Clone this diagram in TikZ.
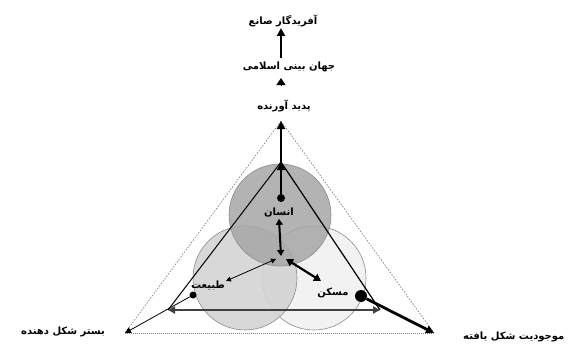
\documentclass[tikz,border=0pt]{standalone}
\usepackage{fontspec}
\newfontfamily\arabicfont[Script=Arabic]{DejaVu Sans}
\TeXXeTstate=1
\usetikzlibrary{arrows.meta}
\definecolor{ringgray}{HTML}{8C8C8C}
\definecolor{topfill}{HTML}{A6A6A6}
\definecolor{leftfill}{HTML}{D4D4D4}
\definecolor{rightfill}{HTML}{F2F2F2}
\newcommand{\fa}[1]{{\arabicfont\bfseries\beginR #1\endR}}

\begin{document}
\begin{tikzpicture}[x=1pt,y=-1pt,
  fatext/.style={font=\fontsize{10}{11}\selectfont, inner sep=1pt},
  dot/.style={circle,fill=black,inner sep=0pt,minimum size=#1},
  ring/.style={draw=ringgray,line width=0.6pt},
  outer/.style={draw=gray,line width=0.7pt,dash pattern=on 1.5pt off 1.5pt},
  bigtip/.style={-{Triangle[length=8pt,width=8pt]}},
  smalltip/.style={{Triangle[length=5pt,width=5pt]}-{Triangle[length=5pt,width=5pt]}}]
  \useasboundingbox (0,0) rectangle (570,345);
  % the three circles
  \filldraw[ring,fill=rightfill] (314,278) circle (52);
  \filldraw[ring,fill=leftfill,fill opacity=0.9] (245,278) circle (52);
  \filldraw[ring,fill=topfill,fill opacity=0.85] (280,215) circle (51);

  % corners
  \coordinate (apexout) at (281,121);
  \coordinate (leftout) at (125,333);
  \coordinate (rightout) at (434,333);
  \coordinate (apexin) at (281,162);
  \coordinate (leftin) at (168,310);
  \coordinate (rightin) at (380,310);
  \coordinate (hub) at (281,256);
  \coordinate (hubl) at (276,259);
  \coordinate (hubr) at (286,259);
  \coordinate (tabend) at (226,281);
  \coordinate (maskend) at (321,281);

  \node[dot=8pt] (ensandot) at (281,198) {};
  \node[dot=7pt] (tabdot) at (193,295) {};
  \node[dot=12pt] (maskdot) at (361,296) {};

  \node[fatext] (ensan) at (279,213) {\fa{انسان}};
  \node[fatext] (tabiat) at (208,286) {\fa{طبیعت}};
  \node[fatext] (maskan) at (333,293) {\fa{مسکن}};
  \node[fatext] (padid) at (284,106) {\fa{پدید آورنده}};
  \node[fatext] (jahan) at (289,67) {\fa{جهان بینی اسلامی}};
  \node[fatext] (afarid) at (283,21) {\fa{آفریدگار صانع}};
  \node[fatext] (bastar) at (63,332) {\fa{بستر شکل دهنده}};
  \node[fatext,anchor=west] (mojud) at (462,337) {\fa{موجودیت شکل یافته}};

  % outer triangle
  \draw[outer] (apexout) -- (leftout);
  \draw[outer] (apexout) -- (rightout);
  \draw[outer,dash pattern=on 1pt off 1pt] (leftout) -- (rightout);

  % inner triangle
  \draw[line width=1pt] (apexin) -- (leftin);
  \draw[line width=1.2pt] (apexin) -- (rightin);
  \draw[line width=1.8pt,draw=black!75,{Triangle[length=7pt,width=7pt]}-{Triangle[length=7pt,width=7pt]}] (leftin) -- (rightin);

  % axis to the top
  \draw[line width=2.5pt,bigtip] (ensandot) -- (apexin);
  \draw[line width=2.5pt,bigtip] (apexin) -- (apexout);
  \draw[line width=2.5pt,bigtip] (281,58) -- (281,28);
  \draw[line width=1pt,-{Triangle[length=7pt,width=9pt]}] (281,86) -- (281,78);

  % inside
  \draw[line width=2pt,{Triangle[length=6pt,width=7pt]}-{Triangle[length=6pt,width=7pt]}] (ensan.south) -- (hub);
  \draw[line width=0.8pt,smalltip] (hubl) -- (tabend);
  \draw[line width=2.2pt,{Triangle[length=7pt,width=8pt]}-{Triangle[length=7pt,width=8pt]}] (hubr) -- (maskend);
  \draw[line width=0.8pt,-{Triangle[length=6pt,width=6pt]}] (tabdot) -- (leftout);
  \draw[line width=2.8pt,bigtip] (maskdot) -- (rightout);
\end{tikzpicture}
\end{document}
